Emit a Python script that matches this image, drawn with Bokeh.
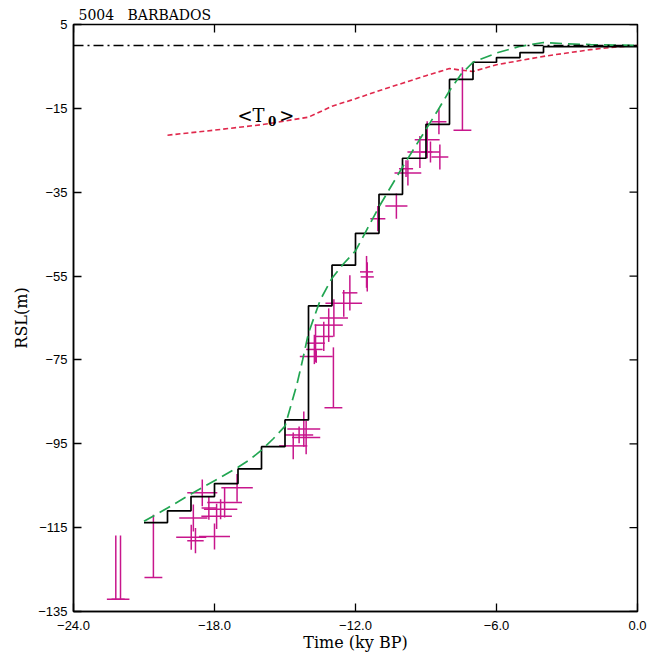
import numpy as np
from bokeh.plotting import figure
from bokeh.models import Range1d, FixedTicker, CustomJSTickFormatter, Span, Label
from bokeh.embed import file_html
from bokeh.resources import INLINE

# ---------------- data ----------------
title_text = "5004\u00a0\u00a0\u00a0BARBADOS"
x_ticks = [-24, -18, -12, -6, 0]
y_ticks = [5, -15, -35, -55, -75, -95, -115, -135]
sea_level_ref = 0

# black stepped curve (ky BP, m)
step_t = [-21, -20, -19, -18, -17, -16, -15, -14, -13, -12, -11, -10, -9, -8, -7, -6, -5, -4, 0]
step_rsl = [-113.8, -111.0, -107.6, -104.5, -101.0, -95.7, -89.3, -62.1, -52.4, -44.8,
            -35.5, -26.9, -18.8, -8.1, -4.0, -2.9, -1.7, -0.3, -0.3]

# green dashed curve
green_t = [-21, -20, -19, -18, -17, -16.5, -16, -15.5, -15, -14.5, -14.25, -14, -13.5, -13, -12.5,
           -12, -11, -10, -9, -8.5, -8, -7.5, -7, -6, -5, -4, -3, -2, -1, 0]
green_rsl = [-113.5, -110.3, -107.0, -103.8, -100.6, -98.8, -96.5, -93.8, -90.8, -81.0, -75.0,
             -68.6, -60.7, -55.5, -52.0, -49.0, -38.5, -29.0, -20.0, -15.5, -10.8, -6.8, -4.0,
             -1.8, -0.2, 0.7, 0.4, 0.2, 0.1, 0.0]

# red dashed curve <T0>
red_t = [-20, -18, -16, -14, -13, -12, -11, -10, -9, -8, -7.5, -7, -6, -5, -4, -3, -2, -1, 0]
red_rsl = [-21.4, -20.2, -18.9, -17.1, -14.5, -12.7, -10.8, -9.0, -7.2, -5.5, -5.9, -6.2,
           -4.6, -3.6, -2.6, -1.8, -1.0, -0.4, 0.0]

# magenta observations with errors
obs_t = [-18.99, -18.81, -18.0, -18.9, -18.52, -18.24, -17.57, -17.74, -17.91, -17.04,
         -14.2, -14.1, -14.65, -14.4,
         -11.53, -11.5, -12.24, -12.5, -12.92, -13.14, -13.35, -13.7, -13.75, -13.67,
         -11.05, -10.26, -9.77, -9.85, -9.26, -8.95, -8.81, -8.41, -8.45]
obs_rsl = [-117.3, -118.1, -117.1, -112.7, -106.7, -110.3, -109.0, -110.6, -112.3, -105.5,
           -91.5, -93.5, -95.5, -92.9,
           -54.0, -55.2, -59.0, -61.5, -65.0, -66.7, -69.4, -71.0, -72.5, -74.2,
           -41.3, -38.3, -30.4, -29.4, -25.4, -22.5, -25.4, -26.6, -18.2]
obs_terr = [0.64, 0.35, 0.66, 0.6, 0.64, 0.31, 0.74, 0.71, 0.65, 0.67,
            0.7, 0.6, 0.6, 0.6,
            0.28, 0.28, 0.32, 0.78, 0.6, 0.6, 0.4, 0.4, 0.35, 0.7,
            0.32, 0.47, 0.57, 0.3, 0.53, 0.53, 0.4, 0.36, 0.32]
obs_rslerr = [3.0, 3.0, 3.1, 3.2, 3.2, 2.8, 3.6, 2.4, 3.0, 3.3,
              4.2, 4.0, 3.2, 2.0,
              3.8, 3.5, 4.2, 3.2, 4.5, 4.0, 3.5, 4.5, 3.5, 1.5,
              3.0, 3.0, 3.0, 2.0, 3.8, 4.4, 2.5, 3.0, 3.0]

# limiting observations (vertical bar with cap at the lower end)
lim_t = [-22.2, -22.0, -20.6, -12.94, -7.45]
lim_top = [-116.9, -116.9, -111.9, -72.0, -5.2]
lim_bottom = [-132.1, -132.1, -126.9, -86.4, -20.2]

# ---------------- styles ----------------
MAG = "#c8168c"
GREEN = "#22a652"
RED = "#e0284c"
SERIF = "DejaVu Serif"
SANS = "Liberation Sans"

W, H = 657, 654
BL, BR, BT, BB = 73, 20, 24, 42
XMIN, XMAX, YMIN, YMAX = -24, 0, -135, 5
TICK_PX = 8

p = figure(width=W, height=H, output_backend="svg", toolbar_location=None,
           x_range=Range1d(XMIN, XMAX), y_range=Range1d(YMIN, YMAX),
           min_border_left=BL, min_border_right=BR, min_border_top=BT, min_border_bottom=BB)
p.xgrid.visible = False
p.ygrid.visible = False
p.outline_line_color = "black"
p.outline_line_width = 1.5
p.background_fill_color = "white"

p.title.text = title_text
p.title.align = "left"
p.title.offset = 5
p.title.standoff = 3
p.title.text_font = SERIF
p.title.text_font_size = "14px"
p.title.text_font_style = "normal"
p.title.text_color = "black"

fx = CustomJSTickFormatter(code="return (tick < 0 ? '\u2212' : '') + Math.abs(tick).toFixed(1);")
fy = CustomJSTickFormatter(code="return (tick < 0 ? '\u2212' : '') + Math.abs(tick).toFixed(0);")

for ax, ticks, fmt in ((p.xaxis[0], x_ticks, fx), (p.yaxis[0], y_ticks, fy)):
    ax.ticker = FixedTicker(ticks=ticks)
    ax.major_tick_in = TICK_PX
    ax.major_tick_out = 0
    ax.minor_tick_in = 0
    ax.minor_tick_out = 0
    ax.axis_line_color = "black"
    ax.axis_line_width = 1.5
    ax.major_tick_line_width = 1.3
    ax.formatter = fmt
    ax.major_label_text_font = SANS
    ax.major_label_text_font_size = "13px"
    ax.major_label_text_color = "black"
    ax.axis_label_text_font = SERIF
    ax.axis_label_text_font_size = "16px"
    ax.axis_label_text_font_style = "normal"
    ax.axis_label_text_color = "black"

p.xaxis[0].axis_label = "Time (ky BP)"
p.yaxis[0].axis_label = "RSL(m)"
p.xaxis[0].major_label_standoff = 9
p.yaxis[0].major_label_standoff = 6
p.xaxis[0].axis_label_standoff = 0
p.yaxis[0].axis_label_standoff = 4

# mirrored inward ticks on the top and right edges
fw = W - BL - BR
fh = H - BT - BB
dy = TICK_PX * (YMAX - YMIN) / fh
dx = TICK_PX * (XMAX - XMIN) / fw
xt = np.array(x_ticks, dtype=float)
yt = np.array(y_ticks, dtype=float)
p.segment(x0=xt, y0=np.full_like(xt, YMAX), x1=xt, y1=np.full_like(xt, YMAX - dy),
          line_color="black", line_width=1.3)
p.segment(x0=np.full_like(yt, XMAX), y0=yt, x1=np.full_like(yt, XMAX - dx), y1=yt,
          line_color="black", line_width=1.3)

# reference sea level
p.add_layout(Span(location=sea_level_ref, dimension="width", line_color="black",
                  line_width=1.4, line_dash="10 4 2 4"))

# red <T0> curve
p.line(red_t, red_rsl, line_color=RED, line_width=1.6, line_dash="5 3")

# observations
ot = np.array(obs_t); orsl = np.array(obs_rsl)
ote = np.array(obs_terr); ore = np.array(obs_rslerr)
p.segment(x0=ot - ote, y0=orsl, x1=ot + ote, y1=orsl, line_color=MAG, line_width=1.5)
p.segment(x0=ot, y0=orsl - ore, x1=ot, y1=orsl + ore, line_color=MAG, line_width=1.5)

lt = np.array(lim_t)
cap = 0.38
p.segment(x0=lt, y0=lim_top, x1=lt, y1=lim_bottom, line_color=MAG, line_width=1.5)
p.segment(x0=lt - cap, y0=lim_bottom, x1=lt + cap, y1=lim_bottom, line_color=MAG, line_width=1.5)

# black step curve
p.step(step_t, step_rsl, mode="after", line_color="black", line_width=1.7)

# green dashed curve
p.line(green_t, green_rsl, line_color=GREEN, line_width=1.7, line_dash="12 6")

# <T0> label
p.add_layout(Label(x=-17.02, y=-16.7, text="<T", text_font=SERIF, text_font_size="18px",
                   text_baseline="alphabetic", text_align="left", text_color="black"))
p.add_layout(Label(x=-15.72, y=-17.9, text="0", text_font=SERIF, text_font_size="12px",
                   text_font_style="bold", text_baseline="alphabetic", text_align="left",
                   text_color="black"))
p.add_layout(Label(x=-15.25, y=-16.7, text=">", text_font=SERIF, text_font_size="18px",
                   text_baseline="alphabetic", text_align="left", text_color="black"))

open("out.html", "w").write(file_html(p, INLINE))
